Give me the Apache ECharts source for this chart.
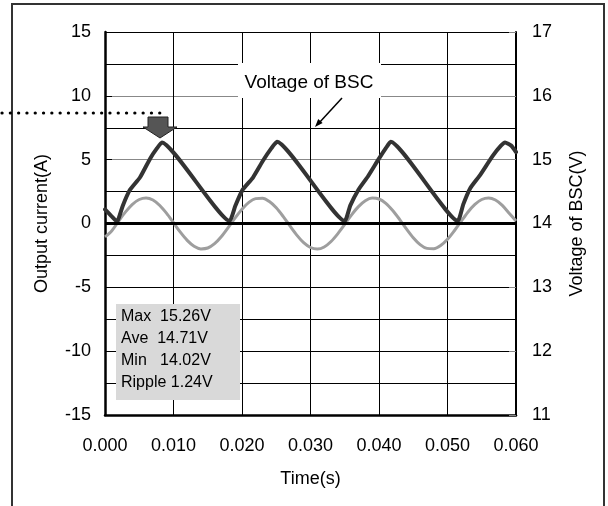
<!DOCTYPE html>
<html>
<head>
<meta charset="utf-8">
<script src="https://cdn.jsdelivr.net/npm/echarts@6/dist/echarts.min.js"></script>
<style>html,body{margin:0;padding:0;background:#fff}#c{width:608px;height:506px}</style>
</head>
<body>
<div id="c"></div>
<script>
// Time ticks (s)
var timeTicks = [0, 0.01, 0.02, 0.03, 0.04, 0.05, 0.06];
// Output current (A), sampled every 1 ms from 0 to 60 ms
var currentTimes = [];
for (var i = 0; i <= 60; i++) currentTimes.push(i / 1000);
var currentValues = [
  -1.05, -0.56, 0.19, 0.91, 1.50, 1.88, 2.00, 1.84, 1.41, 0.79,
  0.06, -0.68, -1.32, -1.78, -1.99, -1.92, -1.58, -1.02, -0.31, 0.44,
  1.12, 1.65, 1.95, 1.98, 1.72, 1.23, 0.56, -0.19, -0.91, -1.50,
  -1.88, -2.00, -1.84, -1.41, -0.79, -0.06, 0.68, 1.32, 1.78, 1.99,
  1.92, 1.58, 1.02, 0.33, -0.42, -1.11, -1.65, -1.95, -1.98, -1.73,
  -1.24, -0.57, 0.17, 0.90, 1.49, 1.88, 2.00, 1.84, 1.42, 0.81,
  0.20
];
// Voltage of BSC (V): time / value pairs
var voltageTimes = [
  0, 0.0009, 0.00175, 0.0026, 0.0036, 0.0051, 0.0066, 0.0076, 0.0083, 0.0182,
  0.0190, 0.0201, 0.0216, 0.0231, 0.0243, 0.0251, 0.0350,
  0.0358, 0.0370, 0.0384, 0.0399, 0.0410, 0.0417, 0.0515,
  0.0523, 0.0533, 0.0547, 0.0566, 0.0578, 0.0584, 0.0593, 0.0600
];
var voltageValues = [
  14.22, 14.12, 14.03, 14.28, 14.52, 14.72, 15.02, 15.18, 15.27, 14.04,
  14.27, 14.53, 14.72, 14.99, 15.18, 15.28, 14.04,
  14.28, 14.53, 14.74, 15.00, 15.18, 15.28, 14.04,
  14.30, 14.55, 14.75, 15.06, 15.22, 15.27, 15.22, 15.12
];
var statsLines = ['Max  15.26V', 'Ave  14.71V', 'Min   14.02V', 'Ripple 1.24V'];

var currentData = currentTimes.map(function (t, i) { return [t, currentValues[i]]; });
var voltageData = voltageTimes.map(function (t, i) { return [t, voltageValues[i]]; });

var FONT = 'Liberation Sans, Arial, sans-serif';
var chart = echarts.init(document.getElementById('c'), null, {renderer: 'canvas'});

var statsText = statsLines.map(function (s, i) {
  return {type: 'text', z: 101, silent: true, style: {x: 121, y: 317 + i * 21.7, text: s, fill: '#000',
    font: '16px ' + FONT, verticalAlign: 'middle'}};
});

chart.setOption({
  animation: false,
  backgroundColor: '#fff',
  textStyle: {fontFamily: FONT},
  grid: {left: 105, right: 92, top: 32, bottom: 91},
  xAxis: {
    type: 'value', min: 0, max: 0.06, interval: 0.01,
    name: 'Time(s)', nameLocation: 'middle', nameGap: 55,
    nameTextStyle: {fontSize: 18, color: '#000', fontFamily: FONT},
    axisLine: {show: true, onZero: false, lineStyle: {color: '#000', width: 2.5}},
    axisTick: {show: false},
    axisLabel: {fontSize: 18, color: '#000', margin: 22, fontFamily: FONT,
      formatter: function (v) { return v.toFixed(3); }},
    splitLine: {show: true, lineStyle: {color: '#000', width: 1}}
  },
  yAxis: [{
    type: 'value', min: -15, max: 15, interval: 5, position: 'left',
    name: 'Output current(A)', nameLocation: 'middle', nameGap: 54,
    nameTextStyle: {fontSize: 18, color: '#000', fontFamily: FONT},
    axisLine: {show: true, onZero: false, lineStyle: {color: '#000', width: 2.5}},
    axisTick: {show: true, inside: true, length: 7, lineStyle: {color: '#000'}},
    axisLabel: {fontSize: 18, color: '#000', margin: 14, fontFamily: FONT},
    splitLine: {show: true, lineStyle: {color: ['#000', '#000', '#000', '#000', '#888', '#888', '#000'], width: 1}},
    minorTick: {show: false, splitNumber: 2},
    minorSplitLine: {show: true, lineStyle: {color: '#000', width: 1}}
  }, {
    type: 'value', min: 11, max: 17, interval: 1, position: 'right',
    name: 'Voltage of BSC(V)', nameLocation: 'middle', nameGap: 52,
    nameTextStyle: {fontSize: 18, color: '#000', fontFamily: FONT},
    axisLine: {show: true, onZero: false, lineStyle: {color: '#000', width: 2}},
    axisTick: {show: true, inside: true, length: 7, lineStyle: {color: '#888'}},
    axisLabel: {fontSize: 18, color: '#000', margin: 16, fontFamily: FONT},
    splitLine: {show: false}
  }],
  series: [{
    name: 'Output current', type: 'line', yAxisIndex: 0, data: currentData,
    smooth: 0.3, showSymbol: false, symbol: 'none',
    lineStyle: {color: '#9e9e9e', width: 3},
    markLine: {
      silent: true, symbol: 'none', label: {show: false},
      lineStyle: {color: '#000', width: 3, type: 'solid'},
      data: [{yAxis: 0}]
    },
    z: 2
  }, {
    name: 'Voltage of BSC', type: 'line', yAxisIndex: 1, data: voltageData,
    smooth: 0.15, showSymbol: false, symbol: 'none',
    lineStyle: {color: '#333', width: 4, join: 'round', cap: 'round'},
    z: 3
  }],
  graphic: [
    {type: 'polyline', z: 100, silent: true,
      shape: {points: [[12, 506], [12, 4], [604, 4], [604, 506]]},
      style: {stroke: '#333', lineWidth: 2, fill: null}},
    {type: 'line', z: 100, silent: true,
      shape: {x1: 2, y1: 113, x2: 160, y2: 113},
      style: {stroke: '#000', lineWidth: 3.2, lineDash: [0.1, 8.2], lineCap: 'round'}},
    {type: 'polygon', z: 100, silent: true,
      shape: {points: [[148, 117], [168, 117], [168, 127], [177, 127], [160, 138], [143, 127], [148, 127]]},
      style: {fill: '#555', stroke: '#222', lineWidth: 1}},
    {type: 'rect', z: 100, silent: true,
      shape: {x: 238, y: 63, width: 143, height: 35},
      style: {fill: '#fff'}},
    {type: 'text', z: 101, silent: true,
      style: {x: 309, y: 83, text: 'Voltage of BSC', fill: '#000', font: '19px ' + FONT,
        align: 'center', verticalAlign: 'middle'}},
    {type: 'line', z: 100, silent: true,
      shape: {x1: 342, y1: 98, x2: 319, y2: 123},
      style: {stroke: '#000', lineWidth: 1.5}},
    {type: 'polygon', z: 100, silent: true,
      shape: {points: [[315, 127], [322.6, 123.1], [318.2, 119.1]]},
      style: {fill: '#000'}},
    {type: 'rect', z: 100, silent: true,
      shape: {x: 116, y: 304, width: 124, height: 96},
      style: {fill: '#d9d9d9'}}
  ].concat(statsText)
});
</script>
</body>
</html>
